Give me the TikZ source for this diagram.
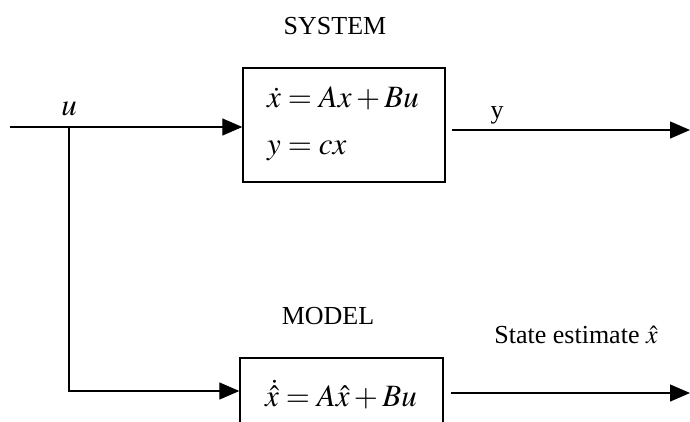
\documentclass[tikz,border=0pt]{standalone}
\usepackage{amsmath}
\usepackage{mathptmx}
\usepackage{fontspec}
\setmainfont{Liberation Serif}
\usetikzlibrary{arrows.meta}

\tikzset{
    blockbox/.style={draw, line width=1.4pt, inner sep=0pt},
    signal/.style={line width=1.3pt},
    sigarrow/.style={signal, -{Triangle[length=20pt,width=17pt]}},
    eqfont/.style={font=\fontsize{31}{35}\selectfont},
    titlefont/.style={font=\fontsize{26}{30}\selectfont},
}

\begin{document}
\begin{tikzpicture}[x=1pt, y=-1pt]
    \useasboundingbox (0,0) rectangle (690,421);

    % blocks
    \node[blockbox, minimum width=202pt, minimum height=114pt] (sys) at (344,125) {};
    \node[eqfont, anchor=base west, inner sep=0pt] (eq1) at (267,107) {$\dot{x} = Ax + Bu$};
    \node[eqfont, anchor=base west, inner sep=0pt] (eq2) at (267,154) {$y = cx$};
    \node[blockbox, minimum width=203pt, minimum height=70pt] (model) at (341.5,393) {};
    \node[eqfont, anchor=base, inner sep=0pt] (eq3) at (341,406) {$\dot{\hat{x}} = A\hat{x} + Bu$};

    % titles
    \node[titlefont] (systitle) at (335,26) {SYSTEM};
    \node[titlefont] (modeltitle) at (328,316) {MODEL};

    % signal points
    \coordinate (in) at (10,127);
    \coordinate (branch) at (69,127);
    \coordinate (corner) at (69,391);
    \coordinate (yend) at (690,130);
    \coordinate (xend) at (690,393);

    % labels
    \node[eqfont] (ulab) at (69,109) {$u$};
    \node[titlefont] (ylab) at (497,115) {y};
    \node[titlefont, anchor=base] (xlab) at (576,343) {State estimate $\hat{x}$};

    % connectors
    \draw[sigarrow] (in) -- (in -| sys.west);
    \draw[sigarrow] (branch) -- (corner) -- (corner -| model.west);
    \draw[sigarrow] (sys.east |- yend) ++(6,0) -- (yend);
    \draw[sigarrow] (model.east |- xend) ++(7,0) -- (xend);
\end{tikzpicture}
\end{document}
